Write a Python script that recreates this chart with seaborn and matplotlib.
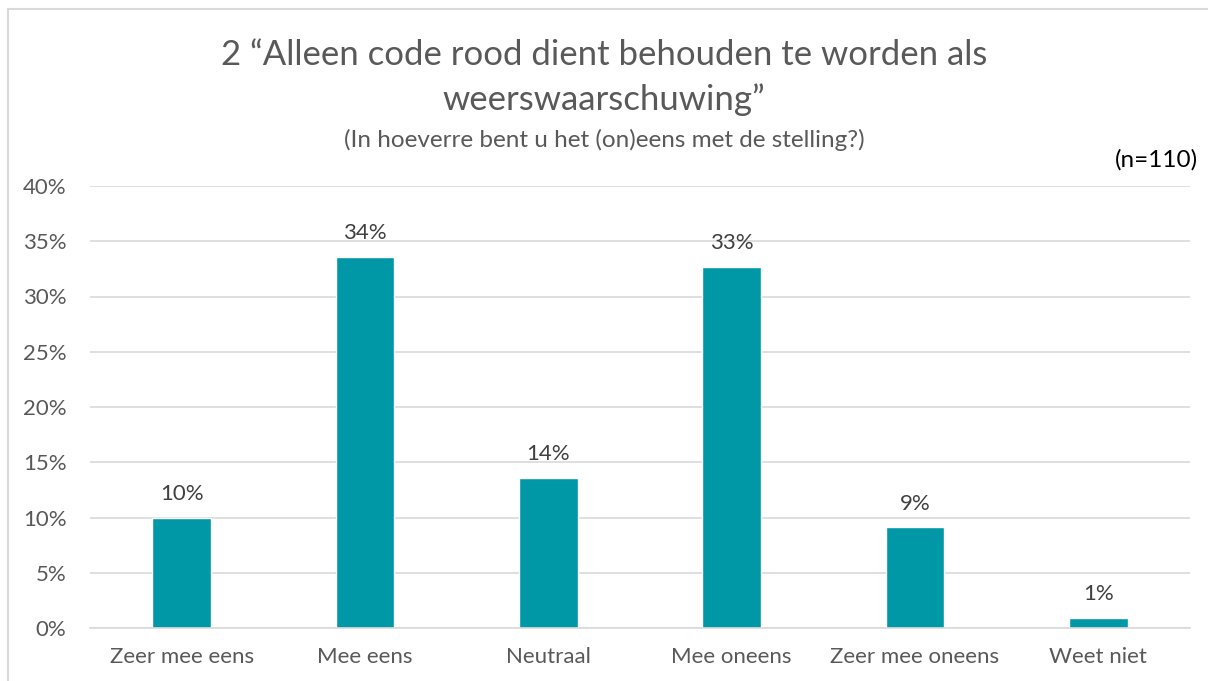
import matplotlib
matplotlib.use("Agg")
import matplotlib.pyplot as plt
import seaborn as sns
import pandas as pd
from matplotlib.patches import Rectangle

categories = ["Zeer mee eens", "Mee eens", "Neutraal", "Mee oneens", "Zeer mee oneens", "Weet niet"]
values = [10.0, 33.6, 13.6, 32.7, 9.1, 0.9]
labels = ["10%", "34%", "14%", "33%", "9%", "1%"]
yticks = [0, 5, 10, 15, 20, 25, 30, 35, 40]

sns.set_theme(style="white")
plt.rcParams['font.family'] = ['Lato', 'DejaVu Sans']
txt = "#595959"

fig = plt.figure(figsize=(12.08, 6.81), dpi=100)
ax = fig.add_axes([90/1208, 1-628/681, 1100/1208, 442/681])

df = pd.DataFrame({"cat": categories, "val": values})
sns.barplot(data=df, x="cat", y="val", color="#0097A7", width=0.32, ax=ax, saturation=1)

ax.set_ylim(0, 40)
ax.set_yticks(yticks)
ax.set_yticklabels([f"{t}%" for t in yticks], fontsize=16, color=txt)
ax.tick_params(axis="x", labelsize=16, labelcolor=txt, length=0, pad=14)
ax.tick_params(axis="y", length=0, pad=17)
ax.set_xlabel("")
ax.set_ylabel("")
ax.grid(axis="y", color="#D9D9D9", linewidth=1.2)
ax.set_axisbelow(True)
for s in ["top", "right", "left"]:
    ax.spines[s].set_visible(False)
ax.spines["bottom"].set_color("#D9D9D9")
ax.spines["bottom"].set_linewidth(1.2)

for i, (v, l) in enumerate(zip(values, labels)):
    ax.annotate(l, (i, v), xytext=(0, 10), textcoords="offset points",
                ha="center", va="bottom", fontsize=16, color="#404040")

fig.text(0.5, 1-55/681, "2 \u201cAlleen code rood dient behouden te worden als", ha="center", va="center", fontsize=25, color=txt)
fig.text(0.5, 1-100/681, "weerswaarschuwing\u201d", ha="center", va="center", fontsize=25, color=txt)
fig.text(0.5, 1-140/681, "(In hoeverre bent u het (on)eens met de stelling?)", ha="center", va="center", fontsize=17.5, color=txt)
fig.text(1198/1208, 1-160/681, "(n=110)", ha="right", va="center", fontsize=17.5, color="#000000")

fig.patches.append(Rectangle((8/1208, -0.01), 1.1, 1-9/681+0.01, transform=fig.transFigure,
                             fill=False, edgecolor="#D9D9D9", linewidth=1.5))

fig.savefig("out.png", dpi=100)
